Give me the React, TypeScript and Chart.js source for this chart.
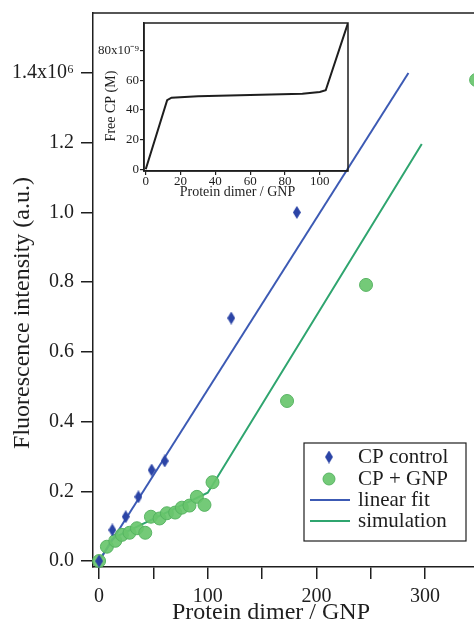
import React, { useEffect, useRef } from 'react';
import { Chart, registerables } from 'chart.js';

Chart.register(...registerables);

// ---- data (fluorescence in units of 10^6 a.u.) ----
const CONTROL_X = [0, 12.2, 24.5, 36.2, 48.4, 60.4, 121.6, 182];
const CONTROL_Y = [0, 0.089, 0.127, 0.184, 0.261, 0.287, 0.697, 1.0];
const GNP_X = [0, 7.2, 14.9, 21, 28, 34.8, 42.5, 47.7, 55.7, 62.4, 70, 76.2, 83.2, 90, 97, 104.4, 173, 245.7, 347];
const GNP_Y = [0, 0.041, 0.058, 0.075, 0.081, 0.094, 0.081, 0.127, 0.122, 0.137, 0.139, 0.153, 0.159, 0.184, 0.161, 0.226, 0.459, 0.792, 1.38];
const FIT_X = [0, 284.7];
const FIT_Y = [0, 1.4];
const SIM_X = [0, 12, 16, 100, 104, 297];
const SIM_Y = [0, 0.062, 0.07, 0.196, 0.216, 1.196];

const X_TICKS = [0, 50, 100, 150, 200, 250, 300, 350];
const X_TICK_LABELS = ['0', '', '100', '', '200', '', '300', ''];
const Y_TICKS = [0, 0.2, 0.4, 0.6, 0.8, 1.0, 1.2, 1.4];
const Y_TICK_LABELS = ['0.0', '0.2', '0.4', '0.6', '0.8', '1.0', '1.2', '1.4x10\u2076'];

const X_TITLE = 'Protein dimer / GNP';
const Y_TITLE = 'Fluorescence intensity (a.u.)';
const LEGEND_LABELS = ['CP control', 'CP + GNP', 'linear fit', 'simulation'];

// inset: free CP (units of 10^-9 M)
const INSET_X = [0, 12.3, 14.8, 30, 60, 90, 100, 103.4, 116.2];
const INSET_Y = [0, 46.5, 48.2, 49.2, 50.1, 50.8, 52, 53.2, 98.5];
const INSET_X_TICKS = [0, 20, 40, 60, 80, 100];
const INSET_X_TICK_LABELS = ['0', '20', '40', '60', '80', '100'];
const INSET_Y_TICKS = [0, 20, 40, 60, 80];
const INSET_Y_TICK_LABELS = ['0', '20', '40', '60', '80x10\u207B\u2079'];
const INSET_X_TITLE = 'Protein dimer / GNP';
const INSET_Y_TITLE = 'Free CP (M)';

// ---- styles ----
const FONT = '"Liberation Serif", "Times New Roman", serif';
const INK = '#1e1e1e';
const BLUE_PT = '#2b44a6';
const BLUE_LINE = '#3c5ab4';
const GREEN_FILL = 'rgba(104,198,108,0.92)';
const GREEN_EDGE = 'rgba(84,178,96,0.95)';
const GREEN_LINE = '#2fa56f';

function pts(xs: number[], ys: number[]) {
  return xs.map((x, i) => ({ x, y: ys[i] }));
}

function makeDiamond(color: string, w: number, h: number) {
  const c = document.createElement('canvas');
  c.width = w;
  c.height = h;
  const ctx = c.getContext('2d')!;
  ctx.fillStyle = color;
  ctx.beginPath();
  ctx.moveTo(w / 2, 0);
  ctx.lineTo(w, h / 2);
  ctx.lineTo(w / 2, h);
  ctx.lineTo(0, h / 2);
  ctx.closePath();
  ctx.fill();
  return c;
}

function fixSize(prop: 'width' | 'height', size: number) {
  return (s: any) => {
    s[prop] = size;
    s.paddingTop = 0;
    s.paddingBottom = 0;
    s.paddingLeft = 0;
    s.paddingRight = 0;
  };
}

export default function App() {
  const mainRef = useRef<HTMLCanvasElement>(null);
  const insetRef = useRef<HTMLCanvasElement>(null);

  useEffect(() => {
    const diamond = makeDiamond(BLUE_PT, 8, 13);

    const mainDecor = {
      id: 'mainDecor',
      afterDraw(chart: any) {
        const { ctx, chartArea: ca } = chart;
        ctx.save();
        ctx.strokeStyle = INK;
        ctx.lineWidth = 1.5;
        ctx.beginPath();
        ctx.moveTo(ca.left, ca.top);
        ctx.lineTo(ca.right, ca.top);
        ctx.stroke();

        ctx.fillStyle = INK;
        ctx.font = `24px ${FONT}`;
        ctx.textAlign = 'center';
        ctx.textBaseline = 'middle';
        ctx.fillText(X_TITLE, 271, 613);
        ctx.save();
        ctx.translate(23, 313);
        ctx.rotate(-Math.PI / 2);
        ctx.fillText(Y_TITLE, 0, 0);
        ctx.restore();

        // legend
        const bx = 304, by = 443, bw = 162, bh = 98;
        ctx.fillStyle = '#fff';
        ctx.fillRect(bx, by, bw, bh);
        ctx.lineWidth = 1.2;
        ctx.strokeStyle = INK;
        ctx.strokeRect(bx, by, bw, bh);
        const rows = [457, 479, 500, 521];
        ctx.drawImage(diamond, 329 - 4, rows[0] - 6.5);
        ctx.beginPath();
        ctx.arc(329, rows[1], 6, 0, Math.PI * 2);
        ctx.fillStyle = GREEN_FILL;
        ctx.fill();
        ctx.lineWidth = 1;
        ctx.strokeStyle = GREEN_EDGE;
        ctx.stroke();
        ctx.lineWidth = 2;
        ctx.strokeStyle = BLUE_LINE;
        ctx.beginPath();
        ctx.moveTo(310, rows[2]);
        ctx.lineTo(350, rows[2]);
        ctx.stroke();
        ctx.strokeStyle = GREEN_LINE;
        ctx.beginPath();
        ctx.moveTo(310, rows[3]);
        ctx.lineTo(350, rows[3]);
        ctx.stroke();
        ctx.fillStyle = INK;
        ctx.font = `21px ${FONT}`;
        ctx.textAlign = 'left';
        ctx.textBaseline = 'middle';
        LEGEND_LABELS.forEach((t, i) => ctx.fillText(t, 358, rows[i]));
        ctx.restore();
      },
    };

    const main = new Chart(mainRef.current!, {
      type: 'scatter',
      data: {
        datasets: [
          {
            label: LEGEND_LABELS[0],
            data: pts(CONTROL_X, CONTROL_Y),
            pointStyle: diamond as any,
            pointRadius: 6,
            backgroundColor: BLUE_PT,
            borderColor: BLUE_PT,
            order: 0,
            clip: false as any,
          },
          {
            label: LEGEND_LABELS[1],
            data: pts(GNP_X, GNP_Y),
            pointStyle: 'circle',
            pointRadius: 6.5,
            backgroundColor: GREEN_FILL,
            borderColor: GREEN_EDGE,
            borderWidth: 1,
            order: 1,
            clip: false as any,
          },
          {
            label: LEGEND_LABELS[2],
            data: pts(FIT_X, FIT_Y),
            showLine: true,
            pointRadius: 0,
            borderColor: BLUE_LINE,
            borderWidth: 2,
            order: 2,
          },
          {
            label: LEGEND_LABELS[3],
            data: pts(SIM_X, SIM_Y),
            showLine: true,
            pointRadius: 0,
            borderColor: GREEN_LINE,
            borderWidth: 2,
            order: 3,
          },
        ],
      },
      options: {
        animation: false,
        responsive: false,
        maintainAspectRatio: false,
        layout: { padding: { top: 13, right: 20, left: 0, bottom: 0 } },
        plugins: { legend: { display: false }, tooltip: { enabled: false } },
        scales: {
          x: {
            type: 'linear',
            min: -5.6,
            max: 369,
            afterBuildTicks: (s: any) => {
              s.ticks = X_TICKS.map((v) => ({ value: v }));
            },
            afterFit: fixSize('height', 57),
            ticks: {
              autoSkip: false,
              maxRotation: 0,
              padding: 6,
              color: INK,
              font: { family: FONT, size: 20 },
              callback: (_v: any, i: number) => X_TICK_LABELS[i],
            },
            grid: { drawOnChartArea: false, drawTicks: true, tickLength: 12, color: INK, lineWidth: 1.5 },
            border: { display: true, color: INK, width: 1.5 },
          },
          y: {
            type: 'linear',
            min: -0.0172,
            max: 1.572,
            afterBuildTicks: (s: any) => {
              s.ticks = Y_TICKS.map((v) => ({ value: v }));
            },
            afterFit: fixSize('width', 93),
            ticks: {
              autoSkip: false,
              padding: 7,
              color: INK,
              font: { family: FONT, size: 20 },
              callback: (_v: any, i: number) => Y_TICK_LABELS[i],
            },
            grid: { drawOnChartArea: false, drawTicks: true, tickLength: 12, color: INK, lineWidth: 1.5 },
            border: { display: true, color: INK, width: 1.5 },
          },
        },
      },
      plugins: [mainDecor],
    } as any);

    const insetDecor = {
      id: 'insetDecor',
      afterDraw(chart: any) {
        const { ctx, chartArea: ca } = chart;
        ctx.save();
        ctx.strokeStyle = INK;
        ctx.lineWidth = 1.5;
        ctx.strokeRect(ca.left, ca.top, ca.right - ca.left, ca.bottom - ca.top);
        ctx.fillStyle = INK;
        ctx.font = `14px ${FONT}`;
        ctx.textAlign = 'center';
        ctx.textBaseline = 'middle';
        ctx.fillText(INSET_X_TITLE, 147.5, 182.5);
        ctx.save();
        ctx.translate(21.5, 96);
        ctx.rotate(-Math.PI / 2);
        ctx.fillText(INSET_Y_TITLE, 0, 0);
        ctx.restore();
        ctx.restore();
      },
    };

    const inset = new Chart(insetRef.current!, {
      type: 'scatter',
      data: {
        datasets: [
          {
            data: pts(INSET_X, INSET_Y),
            showLine: true,
            pointRadius: 0,
            borderColor: INK,
            borderWidth: 2,
          },
        ],
      },
      options: {
        animation: false,
        responsive: false,
        maintainAspectRatio: false,
        layout: { padding: { top: 13, right: 22, left: 0, bottom: 0 } },
        plugins: { legend: { display: false }, tooltip: { enabled: false } },
        scales: {
          x: {
            type: 'linear',
            min: -1,
            max: 116.2,
            afterBuildTicks: (s: any) => {
              s.ticks = INSET_X_TICKS.map((v) => ({ value: v }));
            },
            afterFit: fixSize('height', 39),
            ticks: {
              autoSkip: false,
              maxRotation: 0,
              padding: -1,
              color: INK,
              font: { family: FONT, size: 13 },
              callback: (_v: any, i: number) => INSET_X_TICK_LABELS[i],
            },
            grid: { drawOnChartArea: false, drawTicks: true, tickLength: 4, color: INK, lineWidth: 1.2 },
            border: { display: true, color: INK, width: 1.5 },
          },
          y: {
            type: 'linear',
            min: -1.15,
            max: 98.5,
            afterBuildTicks: (s: any) => {
              s.ticks = INSET_Y_TICKS.map((v) => ({ value: v }));
            },
            afterFit: fixSize('width', 54),
            ticks: {
              autoSkip: false,
              padding: 1,
              color: INK,
              font: { family: FONT, size: 13 },
              callback: (_v: any, i: number) => INSET_Y_TICK_LABELS[i],
            },
            grid: { drawOnChartArea: false, drawTicks: true, tickLength: 4, color: INK, lineWidth: 1.2 },
            border: { display: true, color: INK, width: 1.5 },
          },
        },
      },
      plugins: [insetDecor],
    } as any);

    return () => {
      main.destroy();
      inset.destroy();
    };
  }, []);

  return (
    <div
      style={{
        position: 'fixed',
        left: 0,
        top: 0,
        width: 474,
        height: 624,
        overflow: 'hidden',
        background: '#fff',
      }}
    >
      <canvas
        ref={mainRef}
        width={520}
        height={624}
        style={{ position: 'absolute', left: 0, top: 0, width: 520, height: 624 }}
      />
      <canvas
        ref={insetRef}
        width={280}
        height={200}
        style={{ position: 'absolute', left: 90, top: 10, width: 280, height: 200 }}
      />
    </div>
  );
}
